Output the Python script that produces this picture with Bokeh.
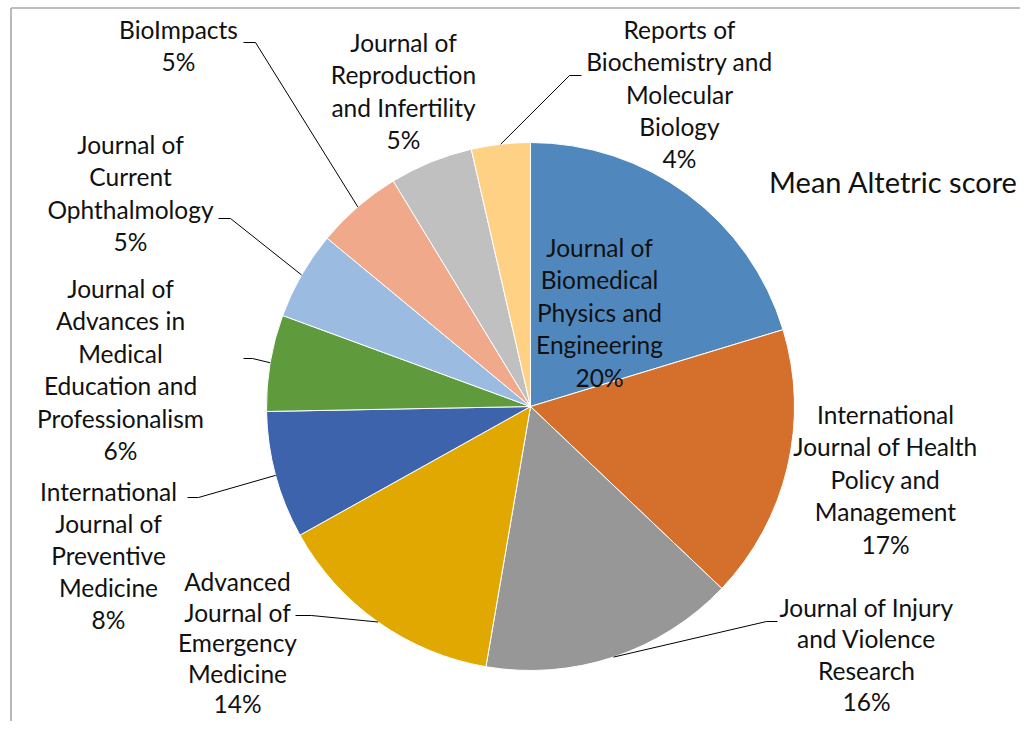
import math
from bokeh.plotting import figure
from bokeh.models import Range1d
from bokeh.core.properties import value
from bokeh.embed import file_html
from bokeh.resources import INLINE

# ---------------- data ----------------
journals = [
    "Journal of\nBiomedical\nPhysics and\nEngineering",
    "International\nJournal of Health\nPolicy and\nManagement",
    "Journal of Injury\nand Violence\nResearch",
    "Advanced\nJournal of\nEmergency\nMedicine",
    "International\nJournal of\nPreventive\nMedicine",
    "Journal of\nAdvances in\nMedical\nEducation and\nProfessionalism",
    "Journal of\nCurrent\nOphthalmology",
    "BioImpacts",
    "Journal of\nReproduction\nand Infertility",
    "Reports of\nBiochemistry and\nMolecular\nBiology",
]
scores = [20.3, 16.8, 15.6, 14.2, 7.8, 5.9, 5.4, 5.3, 5.1, 3.6]
title_text = "Mean Altetric score"

# ---------------- styles / layout ----------------
colors = ["#5088BE", "#D46F2C", "#979797", "#E0A800", "#3D63AC",
          "#5F9A3C", "#9BBBE1", "#F0A98A", "#C0C0C0", "#FFD185"]
FONT = "Lato"
FS = "24.5px"
W, H = 1020, 721


def Y(sy):  # picture y -> data y
    return H - sy


cx, cy, R = 530, Y(406), 264
# label block: center x, first line picture y, line pitch
label_pos = [(599, 247, 32.4), (885, 414, 32.4), (866, 607, 31.3),
             (237, 581, 30.6), (108, 491, 32.0), (120, 288, 32.4),
             (130, 144, 32.4), (178, 29, 31.5), (403, 42, 32.4),
             (679, 29, 32.3)]
# leader elbows (picture coords), or None
leaders = [None, None, [(777, 621), (766, 621)], [(295, 615), (311, 615)],
           [(187, 497), (198, 497)], [(243, 358), (252, 358)],
           [(218, 218), (230, 218)], [(243, 42), (255, 42)], None,
           [(581, 75), (569, 75)]]

p = figure(width=W, height=H, output_backend="svg", toolbar_location=None,
           x_range=Range1d(0, W), y_range=Range1d(0, H), min_border=0)
p.axis.visible = False
p.grid.visible = False
p.outline_line_color = None
p.background_fill_color = "white"

total = sum(scores)
cum = 0.0
starts, ends, mids = [], [], []
for s in scores:
    a0 = math.pi / 2 - 2 * math.pi * cum / total
    cum += s
    a1 = math.pi / 2 - 2 * math.pi * cum / total
    starts.append(a0)
    ends.append(a1)
    mids.append((a0 + a1) / 2)

p.wedge(x=[cx] * len(scores), y=[cy] * len(scores), radius=R,
        start_angle=starts, end_angle=ends, direction="clock",
        fill_color=colors, line_color="white", line_width=1)

# frame lines
p.line([10.5, 10.5], [Y(7.5), Y(H + 5)], line_color="#A8A8A8", line_width=1.6)
p.line([10.5, W + 5], [Y(7.5), Y(7.5)], line_color="#A8A8A8", line_width=1.6)

# leaders
for i, pts in enumerate(leaders):
    if pts is None:
        continue
    ex = cx + R * math.cos(mids[i])
    ey = cy + R * math.sin(mids[i])
    xs = [q[0] for q in pts] + [ex]
    ys = [Y(q[1]) for q in pts] + [ey]
    p.line(xs, ys, line_color="black", line_width=1)

# labels
tx, ty, tt = [], [], []
for i, name in enumerate(journals):
    pct = round(scores[i] / total * 100)
    lines = name.split("\n") + [f"{pct}%"]
    lx, ly, pitch = label_pos[i]
    for k, ln in enumerate(lines):
        tx.append(lx)
        ty.append(Y(ly + k * pitch))
        tt.append(ln)
p.text(x=tx, y=ty, text=tt, text_font=value(FONT), text_font_size=FS,
       text_align="center", text_baseline="middle", text_color="#111111")

p.text(x=[893], y=[Y(181)], text=[title_text], text_font=value(FONT),
       text_font_size="29px", text_align="center", text_baseline="middle",
       text_color="#111111")

open("out.html", "w").write(file_html(p, INLINE))
